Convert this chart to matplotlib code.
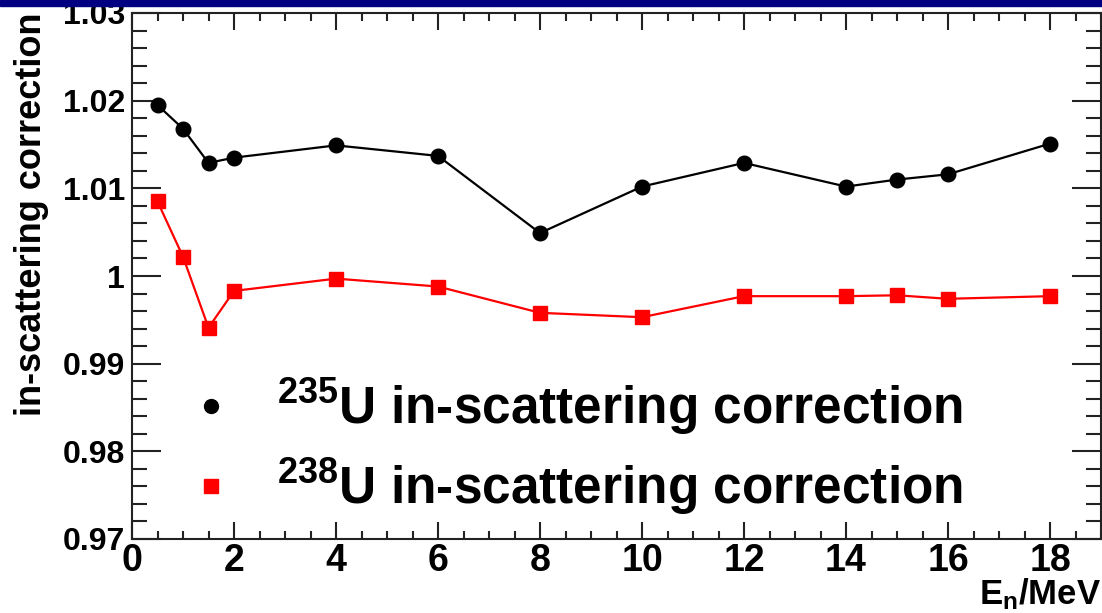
import matplotlib
matplotlib.use("Agg")
import matplotlib.pyplot as plt
from matplotlib.lines import Line2D
from matplotlib.patches import Rectangle
from matplotlib.ticker import MultipleLocator

# ---- data ----
energy = [0.5, 1, 1.5, 2, 4, 6, 8, 10, 12, 14, 15, 16, 18]
u235 = [1.0195, 1.0168, 1.0129, 1.0135, 1.0149, 1.0137, 1.0049,
        1.0102, 1.0129, 1.0102, 1.0110, 1.0116, 1.0151]
u238 = [1.0085, 1.0022, 0.9941, 0.9983, 0.9997, 0.9988, 0.9958,
        0.9953, 0.9977, 0.9977, 0.9978, 0.9974, 0.9977]
ytick_vals = [0.97, 0.98, 0.99, 1.00, 1.01, 1.02, 1.03]
ytick_labels = ["0.97", "0.98", "0.99", "1", "1.01", "1.02", "1.03"]
xtick_vals = [0, 2, 4, 6, 8, 10, 12, 14, 16, 18]
label_235 = r"$^{235}$U in-scattering correction"
label_238 = r"$^{238}$U in-scattering correction"

plt.rcParams["font.family"] = ["Liberation Sans", "DejaVu Sans"]
plt.rcParams["font.weight"] = "bold"
plt.rcParams["mathtext.fontset"] = "custom"
plt.rcParams["mathtext.rm"] = "Liberation Sans:bold"
plt.rcParams["mathtext.bf"] = "Liberation Sans:bold"
plt.rcParams["mathtext.it"] = "Liberation Sans:bold"
plt.rcParams["mathtext.default"] = "rm"

W, H = 1102, 613
fig = plt.figure(figsize=(W / 100, H / 100), dpi=100)
fig.patch.set_facecolor("white")
# top navy strip
fig.patches.append(Rectangle((0, 1 - 6 / H), 1, 6 / H, transform=fig.transFigure,
                             color="#000080", zorder=0))

ax = fig.add_axes([132 / W, 1 - 539 / H, (1101 - 132) / W, (539 - 13) / H])
ax.set_xlim(0, 19)
ax.set_ylim(0.97, 1.03)

ax.plot(energy, u235, color="black", lw=1.6, marker="o", ms=10.5, zorder=3)
ax.plot(energy, u238, color="#ff0000", lw=1.6, marker="s", ms=10, zorder=3)

for s in ax.spines.values():
    s.set_linewidth(1.5)
    s.set_color("#222222")

ax.set_xticks(xtick_vals)
ax.xaxis.set_minor_locator(MultipleLocator(0.5))
ax.set_yticks(ytick_vals)
ax.set_yticklabels(ytick_labels)
ax.yaxis.set_minor_locator(MultipleLocator(0.002))

ax.tick_params(axis="both", which="both", direction="in", top=True, right=True,
               color="#222222", width=1.5)
ax.tick_params(axis="x", which="major", length=12.5, labelsize=27, pad=3)
ax.tick_params(axis="x", which="minor", length=6)
ax.tick_params(axis="y", which="major", length=21, labelsize=23, pad=5)
ax.tick_params(axis="y", which="minor", length=10.5)
for lab in ax.get_xticklabels() + ax.get_yticklabels():
    lab.set_fontweight("bold")

ax.set_ylabel("in-scattering correction", fontsize=26, fontweight="bold",
              loc="top", labelpad=10)
ax.set_xlabel(r"E$_{\mathrm{n}}$/MeV", fontsize=25, fontweight="bold",
              loc="right", labelpad=-2)

handles = [Line2D([], [], color="black", marker="o", ls="none", ms=10),
           Line2D([], [], color="#ff0000", marker="s", ls="none", ms=10)]
leg = ax.legend(handles, [label_235, label_238], loc="center left",
                bbox_to_anchor=(185 / W, 1 - 447 / H),
                bbox_transform=fig.transFigure, frameon=False,
                prop={"size": 37, "weight": "bold"},
                handlelength=1.0, handletextpad=0.79, labelspacing=0.38,
                borderpad=0, borderaxespad=0)

fig.savefig("out.png", dpi=100)
